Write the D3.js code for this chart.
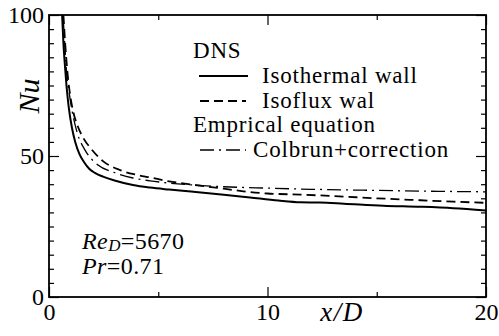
<!DOCTYPE html>
<html>
<head>
<meta charset="utf-8">
<script src="https://cdn.jsdelivr.net/npm/d3@7"></script>
<style>
  html, body { margin: 0; padding: 0; background: #fff; }
  svg { display: block; }
  svg text { font-family: "Liberation Serif" !important; }
</style>
</head>
<body>
<svg id="chart" width="499" height="336"></svg>
<script>
// Local Nusselt number along the pipe, Re_D = 5670, Pr = 0.71
const isothermalX  = [0.6, 0.66, 0.72, 0.8, 0.9, 1.05, 1.2, 1.4, 1.6, 1.85, 2.1, 2.47, 3.0, 3.84, 4.62, 5.5, 6.5, 8.0, 9.2, 10.5, 11.5, 12.4, 13.5, 15.3, 17.0, 18.5, 20.0];
const isothermalNu = [100, 90, 83, 75, 67.5, 60, 55, 50.6, 47.9, 45.4, 44.0, 42.7, 41.3, 39.7, 38.8, 38.1, 37.4, 36.3, 35.3, 34.2, 33.6, 33.5, 33.1, 32.4, 32.0, 31.5, 30.7];

const isofluxX  = [0.66, 0.74, 0.84, 0.96, 1.1, 1.33, 1.6, 1.88, 2.47, 3.25, 4.03, 4.62, 5.5, 6.6, 8.0, 9.2, 10.0, 11.5, 13.0, 15.0, 17.0, 18.5, 20.0];
const isofluxNu = [100, 90, 80, 72, 66, 60.3, 56, 53.0, 48.2, 45.0, 43.3, 42.4, 41.0, 39.8, 38.4, 37.2, 36.7, 36.3, 35.8, 35.0, 34.3, 33.8, 33.4];

const colburnX  = [0.64, 0.72, 0.8, 0.93, 1.05, 1.3, 1.65, 2.24, 2.93, 3.84, 4.62, 5.5, 6.6, 8.0, 10.0, 12.0, 15.0, 17.5, 20.0];
const colburnNu = [100, 90, 80, 72, 66.3, 58, 52.1, 46.8, 44.3, 42.2, 41.2, 40.4, 39.7, 39.1, 38.6, 38.2, 37.8, 37.5, 37.3];

const xTickValues = [0, 5, 10, 15, 20];
const xTickLabels = ["0", "", "10", "", "20"];
const yTickValues = d3.range(0, 101, 5);
const yLabelled   = [0, 50, 100];

const FONT = '"Liberation Serif"';

const svg = d3.select("#chart");
const plotLeft = 49, plotRight = 486, plotTop = 15, plotBottom = 297;

const x = d3.scaleLinear().domain([0, 20]).range([plotLeft, plotRight]);
const y = d3.scaleLinear().domain([0, 100]).range([plotBottom, plotTop]);

const minorLen = 5, majorLen = 10;

// ---- axes (ticks point inward on all four sides) ----
const xMajor = d => d % 10 === 0;
const yMajor = d => d % 50 === 0;

const gBottom = svg.append("g").attr("transform", `translate(0,${plotBottom})`)
  .call(d3.axisBottom(x).tickValues(xTickValues).tickSizeOuter(0)
        .tickFormat((d, i) => xTickLabels[i]));
gBottom.selectAll(".tick line").attr("y2", d => xMajor(d) ? -majorLen : -minorLen);
gBottom.selectAll(".tick text").attr("y", 23).attr("dy", 0);

const gTop = svg.append("g").attr("transform", `translate(0,${plotTop})`)
  .call(d3.axisTop(x).tickValues(xTickValues).tickSizeOuter(0).tickFormat(""));
gTop.selectAll(".tick line").attr("y2", d => xMajor(d) ? majorLen : minorLen);

const gLeft = svg.append("g").attr("transform", `translate(${plotLeft},0)`)
  .call(d3.axisLeft(y).tickValues(yTickValues).tickSizeOuter(0)
        .tickFormat(d => yLabelled.includes(d) ? String(d) : ""));
gLeft.selectAll(".tick line").attr("x2", d => yMajor(d) ? majorLen : minorLen);
gLeft.selectAll(".tick text").attr("x", -5).attr("dy", 7.5);

const gRight = svg.append("g").attr("transform", `translate(${plotRight},0)`)
  .call(d3.axisRight(y).tickValues(yTickValues).tickSizeOuter(0).tickFormat(""));
gRight.selectAll(".tick line").attr("x2", d => yMajor(d) ? -majorLen : -minorLen);

[gBottom, gTop, gLeft, gRight].forEach(g => g.attr("font-family", null).attr("font-size", null));
svg.selectAll(".domain").remove();
svg.selectAll(".tick line").attr("stroke", "#000").attr("stroke-width", 1.2);
svg.selectAll(".tick text").attr("fill", "#000")
  .style("font-family", FONT).style("font-size", "24px");

// frame
svg.append("rect")
  .attr("x", plotLeft).attr("y", plotTop)
  .attr("width", plotRight - plotLeft).attr("height", plotBottom - plotTop)
  .attr("fill", "none").attr("stroke", "#000").attr("stroke-width", 1.8);

// ---- axis titles ----
svg.append("text")
  .attr("x", 342).attr("y", 321)
  .attr("text-anchor", "middle")
  .style("font-family", FONT).style("font-size", "27px").style("font-style", "italic")
  .attr("letter-spacing", 1.5)
  .text("x/D");

svg.append("text")
  .attr("transform", "translate(39,96) rotate(-90)")
  .attr("text-anchor", "middle")
  .style("font-family", FONT).style("font-size", "30px").style("font-style", "italic")
  .text("Nu");

// ---- curves ----
svg.append("clipPath").attr("id", "plotArea")
  .append("rect").attr("x", plotLeft).attr("y", plotTop)
  .attr("width", plotRight - plotLeft).attr("height", plotBottom - plotTop);

const line = d3.line().x(d => x(d[0])).y(d => y(d[1])).curve(d3.curveMonotoneX);
const series = [
  { xs: isothermalX, ys: isothermalNu, dash: null, width: 2.0 },
  { xs: isofluxX,    ys: isofluxNu,    dash: "9,5", width: 1.8 },
  { xs: colburnX,    ys: colburnNu,    dash: "14,5,2,5", width: 1.3 }
];
const gLines = svg.append("g").attr("clip-path", "url(#plotArea)");
series.forEach(s => {
  gLines.append("path")
    .datum(d3.zip(s.xs, s.ys))
    .attr("d", line)
    .attr("fill", "none")
    .attr("stroke", "#000")
    .attr("stroke-width", s.width)
    .attr("stroke-dasharray", s.dash);
});

// ---- legend ----
const legend = svg.append("g");
function legendText(tx, ty, str) {
  legend.append("text").attr("x", tx).attr("y", ty)
    .style("font-family", FONT).style("font-size", "23px")
    .attr("letter-spacing", 0.8)
    .text(str);
}
function legendLine(x1, x2, ly, s) {
  legend.append("line").attr("x1", x1).attr("x2", x2).attr("y1", ly).attr("y2", ly)
    .attr("stroke", "#000").attr("stroke-width", s.width).attr("stroke-dasharray", s.dash);
}
legendText(193, 58, "DNS");
legendLine(199, 248, 76, series[0]);
legendText(262, 83, "Isothermal wall");
legendLine(200, 246, 101, series[1]);
legendText(262, 108, "Isoflux wal");
legendText(193, 132, "Emprical equation");
legendLine(200, 246, 150, series[2]);
legendText(253, 157, "Colbrun+correction");

// ---- flow parameters ----
function paramText(ty) {
  return svg.append("text").attr("x", 82).attr("y", ty)
    .style("font-family", FONT).style("font-size", "24px")
    .attr("letter-spacing", 0.4);
}
const t1 = paramText(249);
t1.append("tspan").style("font-style", "italic").text("Re");
t1.append("tspan").style("font-style", "italic").style("font-size", "17px").attr("dy", 2).text("D");
t1.append("tspan").attr("dy", -2).text("=5670");
const t2 = paramText(274);
t2.append("tspan").style("font-style", "italic").text("Pr");
t2.append("tspan").text("=0.71");
</script>
</body>
</html>
